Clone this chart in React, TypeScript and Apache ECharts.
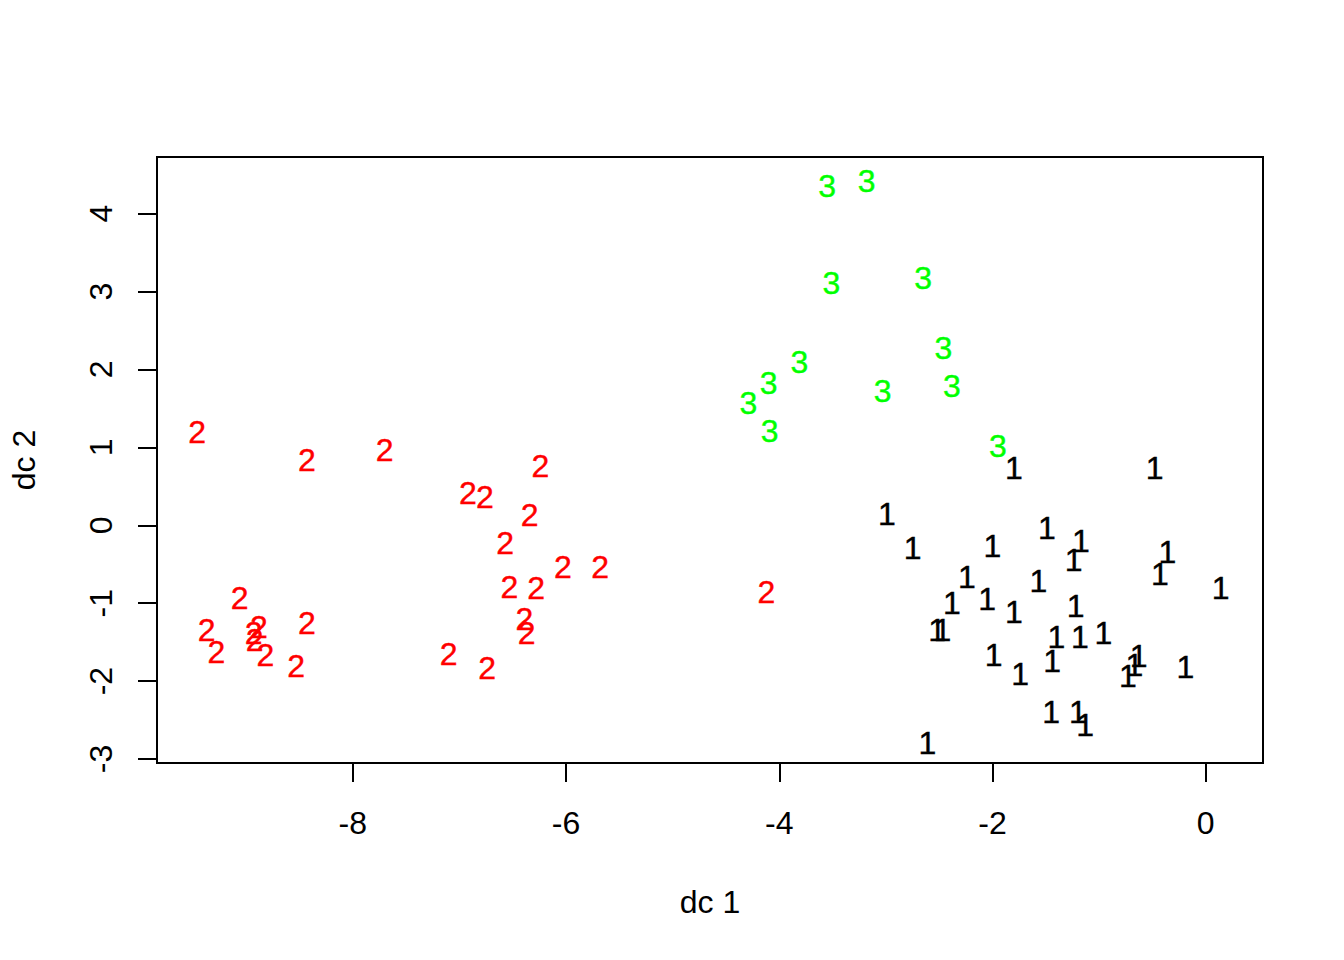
import React, { useEffect, useRef } from "react";
import * as echarts from "echarts";

// Group 1 (black)
const g1x = [-1.80, -0.48, -2.99, -2.75, -2.00, -1.49, -1.17, -1.24, -0.36, -0.43, 0.14, -2.24, -1.57, -2.05, -2.38, -1.80, -1.22, -2.52, -2.47, -1.40, -1.18, -0.96, -1.99, -1.44, -1.74, -0.63, -0.67, -0.73, -0.19, -1.45, -1.20, -1.13, -2.61];
const g1y = [0.74, 0.74, 0.14, -0.29, -0.26, -0.04, -0.20, -0.44, -0.34, -0.62, -0.81, -0.66, -0.71, -0.94, -1.00, -1.11, -1.04, -1.34, -1.34, -1.44, -1.44, -1.38, -1.67, -1.74, -1.91, -1.68, -1.79, -1.94, -1.82, -2.40, -2.39, -2.56, -2.79];

// Group 2 (red)
const g2x = [-9.46, -8.43, -7.70, -6.24, -6.92, -6.76, -6.34, -6.57, -6.03, -5.68, -6.53, -6.28, -6.39, -6.37, -7.10, -6.74, -9.06, -9.37, -9.28, -8.88, -8.93, -8.92, -8.82, -8.43, -8.53, -4.12];
const g2y = [1.20, 0.84, 0.97, 0.76, 0.42, 0.36, 0.13, -0.23, -0.54, -0.53, -0.79, -0.81, -1.20, -1.38, -1.65, -1.83, -0.93, -1.34, -1.62, -1.30, -1.38, -1.47, -1.66, -1.25, -1.80, -0.85];

// Group 3 (green)
const g3x = [-3.55, -3.18, -3.51, -2.65, -2.46, -2.38, -3.03, -3.81, -4.10, -4.29, -4.09, -1.95];
const g3y = [4.35, 4.42, 3.11, 3.17, 2.28, 1.79, 1.73, 2.09, 1.82, 1.57, 1.21, 1.02];

const xTicks = [-8, -6, -4, -2, 0];
const yTicks = [-3, -2, -1, 0, 1, 2, 3, 4];
const xRange = [-9.836, 0.537];
const yRange = [-3.051, 4.727];

const groups = [
  { name: "1", xs: g1x, ys: g1y, color: "#000000" },
  { name: "2", xs: g2x, ys: g2y, color: "#FF0000" },
  { name: "3", xs: g3x, ys: g3y, color: "#00FF00" },
];

const FONT = "'Liberation Sans', Arial, Helvetica, sans-serif";

export default function App() {
  const ref = useRef<HTMLDivElement>(null);
  useEffect(() => {
    if (!ref.current) return;
    const chart = echarts.init(ref.current, null, { renderer: "svg" });
    const axisCommon = {
      type: "value" as const,
      splitLine: { show: false },
      axisLine: { show: false, onZero: false },
      nameLocation: "middle" as const,
      nameTextStyle: { fontSize: 32, color: "#000", fontFamily: FONT },
    };
    chart.setOption({
      animation: false,
      backgroundColor: "#ffffff",
      grid: {
        left: 157,
        right: 81,
        top: 157,
        bottom: 197,
        show: true,
        borderColor: "#000",
        borderWidth: 2,
        containLabel: false,
        outerBoundsMode: "none",
      },
      xAxis: {
        ...axisCommon,
        min: xRange[0],
        max: xRange[1],
        name: "dc 1",
        nameGap: 123,
        axisTick: {
          show: true,
          customValues: xTicks,
          length: 19,
          lineStyle: { color: "#000", width: 2 },
        },
        axisLabel: {
          customValues: xTicks,
          margin: 44,
          fontSize: 32,
          color: "#000",
          fontFamily: FONT,
        },
      },
      yAxis: {
        ...axisCommon,
        min: yRange[0],
        max: yRange[1],
        name: "dc 2",
        nameGap: 117,
        axisTick: {
          show: true,
          customValues: yTicks,
          length: 19,
          lineStyle: { color: "#000", width: 2 },
        },
        axisLabel: {
          customValues: yTicks,
          rotate: 90,
          margin: 40,
          fontSize: 32,
          color: "#000",
          fontFamily: FONT,
        },
      },
      series: groups.map((g) => ({
        type: "scatter",
        name: g.name,
        symbol: "circle",
        symbolSize: 1,
        itemStyle: { color: "rgba(0,0,0,0)" },
        data: g.xs.map((x, i) => [x, g.ys[i]]),
        label: {
          show: true,
          position: "inside",
          formatter: g.name,
          fontSize: 32,
          fontFamily: FONT,
          color: g.color,
          opacity: 1,
          textBorderColor: g.color,
          textBorderWidth: 0.4,
        },
        emphasis: { disabled: true },
      })),
    });
    return () => chart.dispose();
  }, []);
  return (
    <div
      ref={ref}
      style={{ position: "absolute", left: 0, top: 0, width: 1344, height: 960, background: "#fff" }}
    />
  );
}
